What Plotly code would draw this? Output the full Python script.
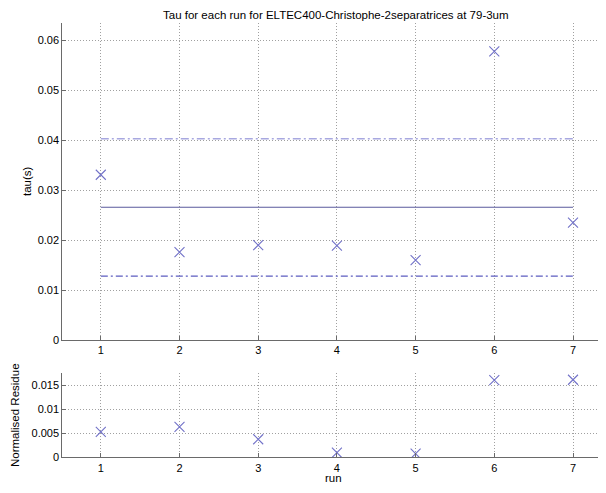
import plotly.graph_objects as go

runs = [1, 2, 3, 4, 5, 6, 7]
tau = [0.0331, 0.0176, 0.0190, 0.0189, 0.0160, 0.0578, 0.0235]
tau_mean = 0.0266
tau_upper = 0.0403
tau_lower = 0.0128
residue = [0.0053, 0.0063, 0.00375, 0.00096, 0.00075, 0.0160, 0.0161]

title = "Tau for each run for ELTEC400-Christophe-2separatrices at 79-3um"
main_yticks = [0, 0.01, 0.02, 0.03, 0.04, 0.05, 0.06]
main_ylabels = ["0", "0.01", "0.02", "0.03", "0.04", "0.05", "0.06"]
res_yticks = [0, 0.005, 0.01, 0.015]
res_ylabels = ["0", "0.005", "0.01", "0.015"]

# page body margin (8px) compensation: figure fits inside the window
OFF = 8
W, H = 606 - 2 * OFF, 493 - 2 * OFF
FONT = "Liberation Sans, Arial, Helvetica, sans-serif"
mcol = "#7272c8"


def px(x):
    return (x - OFF) / W


def py(y):
    return (H - (y - OFF)) / H


fig = go.Figure()
fig.add_trace(go.Scatter(x=runs, y=tau, mode="markers",
                         marker=dict(symbol="x-thin-open", size=10, color=mcol, line=dict(color=mcol, width=1.1)),
                         xaxis="x", yaxis="y", showlegend=False))
fig.add_trace(go.Scatter(x=[runs[0], runs[-1]], y=[tau_mean, tau_mean], mode="lines",
                         line=dict(color="#5a5a9c", width=1.1), xaxis="x", yaxis="y", showlegend=False))
fig.add_trace(go.Scatter(x=[runs[0], runs[-1]], y=[tau_upper, tau_upper], mode="lines",
                         line=dict(color="#a8a8e0", width=1.5, dash="8px,3px,2px,3px"), xaxis="x", yaxis="y",
                         showlegend=False))
fig.add_trace(go.Scatter(x=[runs[0], runs[-1]], y=[tau_lower, tau_lower], mode="lines",
                         line=dict(color="#5c5cc0", width=1.2, dash="7px,3px,2px,3px"), xaxis="x", yaxis="y",
                         showlegend=False))
fig.add_trace(go.Scatter(x=runs, y=residue, mode="markers",
                         marker=dict(symbol="x-thin-open", size=10, color=mcol, line=dict(color=mcol, width=1.1)),
                         xaxis="x2", yaxis="y2", showlegend=False))

# x=1 at page 100.8, x=7 at page 573 -> 78.7 px per run
x_left = 1 - (100.8 - 62.3) / 78.7
x_right = 7 + (598 - 573) / 78.7
xd = [px(62.3), 1.0]
axis_common = dict(showgrid=True, gridcolor="#a0a0a0", griddash="1px,2px", gridwidth=1,
                   showline=True, linecolor="#6a6a6a", linewidth=1, ticks="inside", ticklen=4,
                   tickcolor="#6a6a6a", zeroline=False, automargin=False,
                   tickfont=dict(family=FONT, size=11, color="black"))

fig.update_layout(
    width=W, height=H, margin=dict(l=0, r=0, t=0, b=0, pad=0, autoexpand=False),
    paper_bgcolor="white", plot_bgcolor="white",
    font=dict(family=FONT, size=11, color="black"),
    xaxis=dict(domain=xd, range=[x_left, x_right], tickvals=runs, anchor="y", **axis_common),
    yaxis=dict(domain=[py(340), py(23)], range=[0, 0.0635], tickvals=main_yticks,
               ticktext=main_ylabels, anchor="x", **axis_common),
    xaxis2=dict(domain=xd, range=[x_left, x_right], tickvals=runs, anchor="y2", **axis_common),
    yaxis2=dict(domain=[py(457.3), py(373)], range=[0, 0.0175], tickvals=res_yticks,
                ticktext=res_ylabels, anchor="x2", **axis_common),
    annotations=[
        dict(text=title, x=px(336), y=1.0, xref="paper", yref="paper",
             showarrow=False, font=dict(family=FONT, size=11.5, color="black"), xanchor="center", yanchor="top",
             borderpad=0),
        dict(text="tau(s)", x=px(27), y=py(181), xref="paper", yref="paper", textangle=-90,
             showarrow=False, font=dict(family=FONT, size=11.5, color="black"), xanchor="center", yanchor="middle"),
        dict(text="Normalised Residue", x=0.0, y=py(415), xref="paper", yref="paper", textangle=-90,
             showarrow=False, font=dict(family=FONT, size=11.5, color="black"), xanchor="left", yanchor="middle",
             borderpad=0),
        dict(text="run", x=px(333), y=0.0, xref="paper", yref="paper",
             showarrow=False, font=dict(family=FONT, size=11.5, color="black"), xanchor="center", yanchor="bottom",
             borderpad=0),
    ],
)

fig.write_html("out.html")
